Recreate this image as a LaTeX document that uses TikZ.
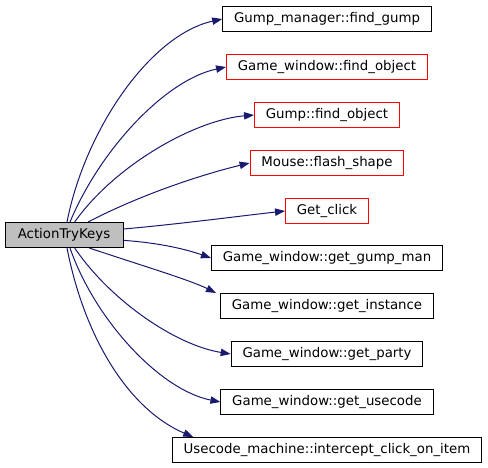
\documentclass[tikz,border=0pt]{standalone}
\usepackage{fontspec}
\setmainfont{DejaVu Sans}
\usetikzlibrary{arrows.meta, positioning}

\definecolor{edgeblue}{RGB}{25,25,112}
\definecolor{rootgray}{RGB}{191,191,191}

\begin{document}
\begin{tikzpicture}[
    x=0.75pt, y=-0.75pt,
    func/.style={rectangle, draw=black, line width=0.75pt, inner xsep=8.5pt, inner ysep=0pt, minimum height=18.75pt, font=\fontsize{10pt}{12pt}\selectfont},
    undoc/.style={func, draw=red},
    root/.style={func, fill=rootgray, minimum width=88.5pt},
    call/.style={-{Triangle[length=7.5pt, width=5.5pt]}, edgeblue, line width=0.75pt},
]
\useasboundingbox (0,0) rectangle (488,467);

\node[root] (atk) at (64,235) {ActionTryKeys};

\node[func] (gmfind) at (327,19) {Gump\_manager::find\_gump};
\node[undoc] (gwfind) at (327,67) {Game\_window::find\_object};
\node[undoc] (gfind) at (327,115) {Gump::find\_object};
\node[undoc] (flash) at (327,163) {Mouse::flash\_shape};
\node[undoc] (click) at (327,211) {Get\_click};
\node[func] (gumpman) at (327,258) {Game\_window::get\_gump\_man};
\node[func] (inst) at (327,306) {Game\_window::get\_instance};
\node[func] (party) at (327,354) {Game\_window::get\_party};
\node[func] (usecode) at (327,402) {Game\_window::get\_usecode};
\node[func] (intercept) at (327,450) {Usecode\_machine::intercept\_click\_on\_item};

% calls upwards
\draw[call] ([xshift=2.25pt]atk.north) .. controls (85,130) and (150,35) .. (gmfind.west);
\draw[call] ([xshift=4.5pt]atk.north) .. controls (100,150) and (165,80) .. (gwfind.west);
\draw[call] ([xshift=8pt]atk.north) .. controls (115,165) and (195,120) .. (gfind.west);
\draw[call] ([xshift=18pt]atk.north) .. controls (140,195) and (200,175) .. (flash.west);
\draw[call] ([yshift=4.5pt]atk.east) .. controls (180,224) and (240,216) .. (click.west);

% calls downwards
\draw[call] ([yshift=-4pt]atk.east) .. controls (160,243) and (185,249) .. (gumpman.west);
\draw[call] ([xshift=19pt]atk.south) .. controls (140,265) and (190,280) .. ([xshift=-3pt]inst.north west);
\draw[call] ([xshift=8pt]atk.south) .. controls (110,300) and (175,345) .. (party.west);
\draw[call] ([xshift=4.5pt]atk.south) .. controls (95,320) and (160,390) .. (usecode.west);
\draw[call] ([xshift=2.25pt]atk.south) .. controls (85,340) and (130,410) .. ([xshift=16pt]intercept.north west);

\end{tikzpicture}
\end{document}
